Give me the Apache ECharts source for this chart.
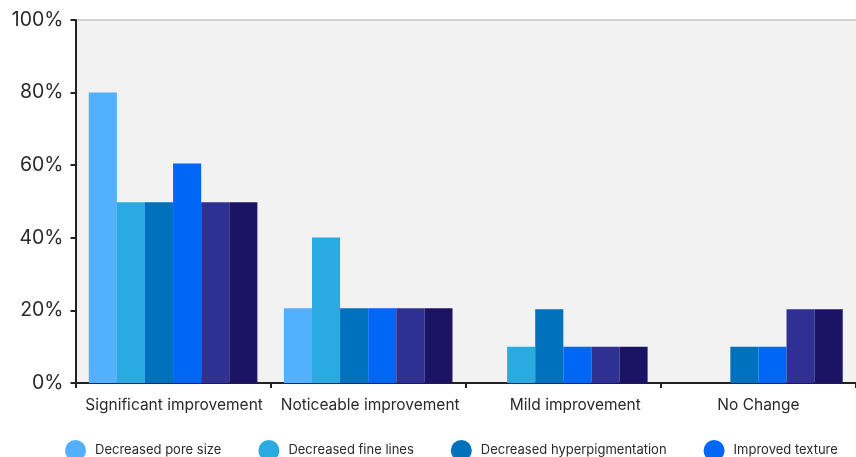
<!DOCTYPE html>
<html>
<head>
<meta charset="utf-8">
<script src="https://cdn.jsdelivr.net/npm/echarts@6/dist/echarts.min.js"></script>
<style>
html,body{margin:0;padding:0;background:#fff;}
#chart{width:856px;height:457px;}
</style>
</head>
<body>
<div id="chart"></div>
<script>
const categories = ['Significant improvement', 'Noticeable improvement', 'Mild improvement', 'No Change'];
const seriesNames = ['Decreased pore size', 'Decreased fine lines', 'Decreased hyperpigmentation', 'Improved texture', 'Improved skin tone', 'Overall appearance'];
const poreSize = [80, 20.6, 0, 0];
const fineLines = [49.8, 40.1, 10, 0];
const hyperpigmentation = [49.8, 20.6, 20.3, 10];
const texture = [60.5, 20.6, 10, 10];
const skinTone = [49.8, 20.6, 10, 20.3];
const overall = [49.8, 20.6, 10, 20.3];
const yTicks = [0, 20, 40, 60, 80, 100];
const colors = ['#53b0ff', '#29abe2', '#0071bc', '#0066f5', '#2e3192', '#1b1464'];

const values = [poreSize, fineLines, hyperpigmentation, texture, skinTone, overall];
const font = 'Inter, "Noto Sans", sans-serif';
// small per-label horizontal nudges (left padding, px) to follow the reference label placement
const labelNudge = [2, 4, 24, 0];

const chart = echarts.init(document.getElementById('chart'));
chart.setOption({
  animation: false,
  color: colors,
  textStyle: { fontFamily: font },
  grid: {
    left: 75.5, right: -4, top: 20, bottom: 74,
    show: true, backgroundColor: '#f2f2f2', borderWidth: 0
  },
  legend: {
    data: seriesNames,
    left: 60, top: 435, width: 3000,
    icon: 'circle',
    itemWidth: 29, itemHeight: 21,
    itemGap: 37,
    textStyle: { fontFamily: font, fontSize: 13, color: '#2a2a2a' }
  },
  xAxis: {
    type: 'category',
    data: categories.map((c, i) => ({ value: c, textStyle: { padding: [0, 0, 0, labelNudge[i]] } })),
    axisLine: { lineStyle: { color: '#222', width: 2 } },
    axisTick: { show: true, interval: 0, length: 5, lineStyle: { color: '#222', width: 2 } },
    axisLabel: { interval: 0, fontSize: 15.5, color: '#2a2a2a', margin: 14, fontFamily: font }
  },
  yAxis: {
    type: 'value',
    min: yTicks[0], max: yTicks[yTicks.length - 1], interval: 20,
    axisLine: { show: true, lineStyle: { color: '#222', width: 2 } },
    axisTick: { show: true, length: 5, lineStyle: { color: '#222', width: 2 } },
    axisLabel: { fontSize: 19.5, color: '#2a2a2a', margin: 12, fontFamily: font, formatter: v => v + '%' },
    splitLine: { show: true, lineStyle: { color: ['rgba(0,0,0,0)', 'rgba(0,0,0,0)', 'rgba(0,0,0,0)', 'rgba(0,0,0,0)', 'rgba(0,0,0,0)', '#c4c4c4'], width: 1.5 } }
  },
  series: seriesNames.map((name, i) => ({
    name: name,
    type: 'bar',
    data: values[i],
    barWidth: 28.1,
    barGap: '0%',
    itemStyle: { color: colors[i], borderWidth: 0 }
  }))
});
</script>
</body>
</html>
